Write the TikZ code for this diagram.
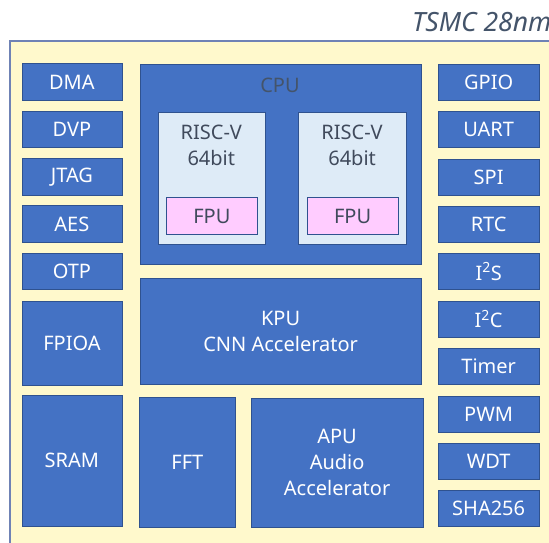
\documentclass[tikz,border=0pt]{standalone}
\usepackage{fontspec}
\setmainfont{Noto Sans}
\definecolor{chipbg}{HTML}{FFF9CC}
\definecolor{chipedge}{HTML}{6F82B5}
\definecolor{blkfill}{HTML}{4472C4}
\definecolor{blkedge}{HTML}{2F528F}
\definecolor{corefill}{HTML}{DEEBF7}
\definecolor{fpufill}{HTML}{FFCCFF}
\definecolor{darktext}{HTML}{44546A}
\definecolor{coretext}{HTML}{404A5C}
\tikzset{
  blk/.style={draw=blkedge, fill=blkfill, line width=0.8pt, text=white,
    rectangle, inner sep=0pt, anchor=north west, align=center,
    font=\fontsize{20}{26}\selectfont},
  core/.style={draw=blkedge, fill=corefill, line width=0.8pt, rectangle,
    inner sep=0pt, anchor=north west},
  fpubox/.style={draw=blkedge, fill=fpufill, line width=0.8pt, rectangle,
    inner sep=0pt, anchor=north west, text=coretext,
    font=\fontsize{20}{26}\selectfont},
  lbl/.style={align=center, inner sep=0pt, font=\fontsize{20}{25.5}\selectfont},
}
% a block given by its top-left corner and its size, in pixels
\newcommand{\blkat}[6]{\node[#1, minimum width=#4pt, minimum height=#5pt] (#2) at (#3) {#6};}
\begin{document}
\begin{tikzpicture}[x=1pt, y=-1pt]
\useasboundingbox (0,0) rectangle (549,543);
\clip (0,0) rectangle (549,543);

% die outline
\draw[chipedge, fill=chipbg, line width=1.5pt] (10,41) rectangle (600,600);
\node[anchor=base west, inner sep=0pt, text=darktext,
      font=\fontsize{26.5}{30}\selectfont\itshape] (proc) at (412,32) {TSMC 28nm};

% left column
\blkat{blk}{dma}{21.5,63.5}{100}{36.5}{DMA}
\blkat{blk}{dvp}{21.5,110.8}{100}{36.5}{DVP}
\blkat{blk}{jtag}{21.5,158.1}{100}{36.5}{JTAG}
\blkat{blk}{aes}{21.5,205.4}{100}{36.5}{AES}
\blkat{blk}{otp}{21.5,252.7}{100}{36.5}{OTP}
\blkat{blk}{fpioa}{21.5,300.5}{100}{84}{FPIOA}
\blkat{blk}{sram}{21.5,395}{100}{130.5}{SRAM}

% right column
\blkat{blk}{gpio}{437.5,64}{101.5}{36}{GPIO}
\blkat{blk}{uart}{437.5,111.3}{101.5}{36}{UART}
\blkat{blk}{spi}{437.5,158.6}{101.5}{36}{SPI}
\blkat{blk}{rtc}{437.5,205.9}{101.5}{36}{RTC}
\blkat{blk}{iis}{437.5,253.2}{101.5}{36}{I\textsuperscript{2}S}
\blkat{blk}{iic}{437.5,300.5}{101.5}{36}{I\textsuperscript{2}C}
\blkat{blk}{timer}{437.5,348.3}{101.5}{36}{Timer}
\blkat{blk}{pwm}{437.5,395.6}{101.5}{36}{PWM}
\blkat{blk}{wdt}{437.5,443}{101.5}{36}{WDT}
\blkat{blk}{sha}{437.5,490}{101.5}{36}{SHA256}

% CPU with its two cores
\blkat{blk}{cpu}{139.5,64}{281}{200}{}
\node[lbl, text=darktext] (cpulbl) at (280,85) {CPU};
\blkat{core}{coreA}{157.7,112.3}{107.3}{131.7}{}
\blkat{core}{coreB}{298.3,112.3}{107.7}{131.7}{}
\node[lbl, text=coretext] (coreAlbl) at (211.3,145.5) {RISC-V\\64bit};
\node[lbl, text=coretext] (coreBlbl) at (352.1,145.5) {RISC-V\\64bit};
\blkat{fpubox}{fpuA}{166,197.3}{91}{36.7}{FPU}
\blkat{fpubox}{fpuB}{306.7,197.3}{91}{36.7}{FPU}

% accelerators
\blkat{blk}{kpu}{139.5,277.7}{281.5}{106.3}{KPU\\CNN Accelerator}
\blkat{blk}{fft}{139,397}{96}{130}{FFT}
\blkat{blk}{apu}{250.7,397.7}{172}{129.6}{APU\\Audio\\Accelerator}
\end{tikzpicture}
\end{document}
